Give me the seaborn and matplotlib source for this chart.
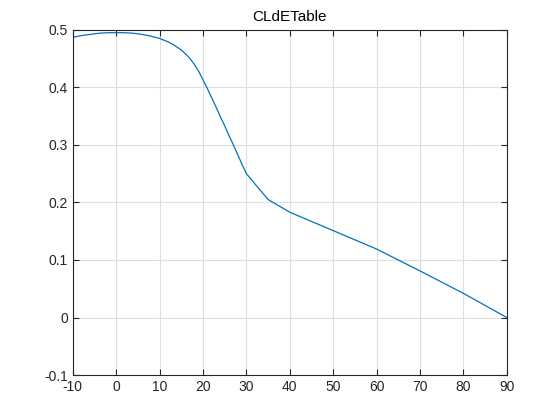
import matplotlib
matplotlib.use("Agg")
import matplotlib.pyplot as plt
import seaborn as sns
import pandas as pd

# alpha (deg) vs CLdE
alpha = [-10, -8, -6, -4, -2, 0, 2, 4, 6, 8, 10, 11, 12, 13, 14, 15, 16,
         17, 18, 19, 20, 21, 22, 23, 24, 25, 26, 27, 28, 29, 30,
         35, 40, 50, 60, 70, 80, 90]
cl_de = [0.487, 0.490, 0.492, 0.494, 0.495, 0.495, 0.495, 0.494, 0.492,
         0.489, 0.485, 0.482, 0.479, 0.475, 0.470, 0.465, 0.458,
         0.450, 0.440, 0.428, 0.413, 0.398, 0.382, 0.366, 0.349, 0.333,
         0.316, 0.300, 0.283, 0.266, 0.250,
         0.205, 0.183, 0.151, 0.119, 0.081, 0.042, 0.0]

xticks = list(range(-10, 91, 10))
yticks = [-0.1, 0, 0.1, 0.2, 0.3, 0.4, 0.5]

df = pd.DataFrame({"alpha": alpha, "CLdE": cl_de})

sns.set_style("ticks")
plt.rcParams["font.family"] = ["Liberation Sans", "DejaVu Sans"]

fig = plt.figure(figsize=(5.6, 4.2), dpi=100)
ax = fig.add_axes([0.13, 0.107, 0.775, 0.822])

sns.lineplot(data=df, x="alpha", y="CLdE", color="#0072BD", linewidth=0.9, ax=ax)

ax.set_xlim(-10, 90)
ax.set_ylim(-0.1, 0.5)
ax.set_xticks(xticks)
ax.set_yticks(yticks)
ax.set_xticklabels([str(t) for t in xticks])
ax.set_yticklabels(["-0.1", "0", "0.1", "0.2", "0.3", "0.4", "0.5"])
ax.set(xlabel="", ylabel="")
ax.grid(True, color="#dfdfdf", linewidth=0.8)
ax.set_axisbelow(True)
ax.tick_params(direction="in", top=True, right=True, length=4,
               labelsize=10, colors="#262626", width=0.8)
for s in ax.spines.values():
    s.set_color("#262626")
    s.set_linewidth(0.8)
ax.set_title("CLdETable", fontsize=11, color="#000000", pad=6)

fig.savefig("out.png", dpi=100)
